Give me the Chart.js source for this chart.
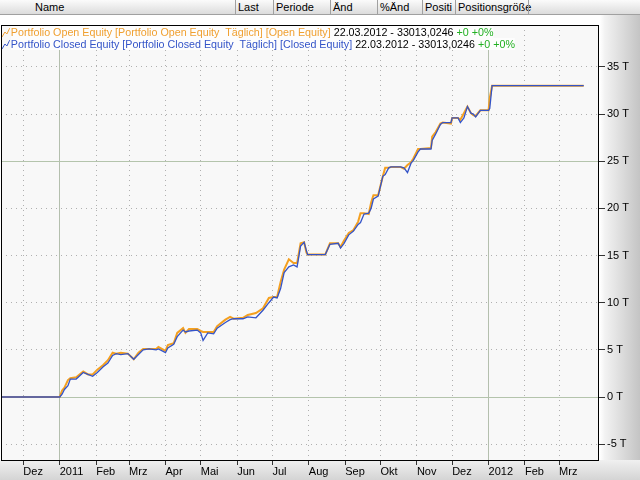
<!DOCTYPE html>
<html>
<head>
<meta charset="utf-8">
<script src="https://cdn.jsdelivr.net/npm/chart.js@4.4.1/dist/chart.umd.min.js"></script>
<style>
  html, body { margin: 0; padding: 0; }
  body {
    width: 640px; height: 480px; position: relative; overflow: hidden;
    font-family: "Liberation Sans", Arial, sans-serif; font-size: 11px;
    background: linear-gradient(to right, #ffffff 0px, #ffffff 600px, #f2f2f2 605px, #c4c4c4 640px);
  }
  #header {
    position: absolute; left: 0; top: 0; width: 640px; height: 15px;
    background: linear-gradient(to bottom, #fbfbfb, #dcdcdc);
    border-bottom: 1px solid #a0a0a0; box-sizing: border-box;
  }
  #header span {
    position: absolute; top: 1px; line-height: 13px; color: #000;
  }
  #header i {
    position: absolute; top: 0; width: 1px; height: 14px; background: #a0a0a0;
  }
  #bottomBand {
    position: absolute; left: 0; top: 460px; width: 640px; height: 20px;
    background: linear-gradient(to bottom, #f0f0f0, #d4d4d4);
  }
  #wrap { position: absolute; left: 0; top: 15px; width: 640px; height: 465px; }
  #legend {
    position: absolute; left: 2px; top: 26px; line-height: 12px;
    transform: scaleX(0.975); transform-origin: 0 0;
  }
  #legend div { white-space: nowrap; }
  #legend span { background: #fdfdfd; }
  #legend svg { vertical-align: -1px; margin-right: 1px; }
</style>
</head>
<body>
<div id="header">
  <span style="left:35px">Name</span>
  <i style="left:235px"></i><span style="left:238px">Last</span>
  <i style="left:273px"></i><span style="left:276px">Periode</span>
  <i style="left:330px"></i><span style="left:333px">Änd</span>
  <i style="left:377px"></i><span style="left:380px">%Änd</span>
  <i style="left:422px"></i><span style="left:425px">Positi</span>
  <i style="left:455px"></i><span style="left:458px">Positionsgröße</span>
  <i style="left:528px"></i>
</div>
<div id="bottomBand"></div>
<div id="wrap"><canvas id="chart" width="640" height="465"></canvas></div>
<div id="legend">
  <div><svg width="8" height="9"><polyline points="0,9 3,4 5,6 8,0" fill="none" stroke="#f0a030" stroke-width="1"/></svg><span style="color:#f0a030">Portfolio Open Equity [Portfolio Open Equity&nbsp; Täglich] [Open Equity]</span><span style="color:#000"> 22.03.2012 - 33013,0246</span><span style="color:#22b022"> +0 +0%</span></div>
  <div><svg width="8" height="9"><polyline points="0,9 3,4 5,6 8,0" fill="none" stroke="#3454c8" stroke-width="1"/></svg><span style="color:#3454c8">Portfolio Closed Equity [Portfolio Closed Equity&nbsp; Täglich] [Closed Equity]</span><span style="color:#000"> 22.03.2012 - 33013,0246</span><span style="color:#22b022"> +0 +0%</span></div>
</div>
<script>
const dates = [
  "2010-11-12", "2011-01-01", "2011-01-03", "2011-01-05", "2011-01-08", "2011-01-10",
  "2011-01-15", "2011-01-21", "2011-01-25", "2011-01-29", "2011-02-02", "2011-02-07",
  "2011-02-11", "2011-02-15", "2011-02-18", "2011-02-22", "2011-02-28", "2011-03-05",
  "2011-03-09", "2011-03-13", "2011-03-18", "2011-03-24", "2011-03-26", "2011-04-01",
  "2011-04-03", "2011-04-08", "2011-04-11", "2011-04-16", "2011-04-18", "2011-04-21",
  "2011-04-28", "2011-05-01", "2011-05-03", "2011-05-07", "2011-05-12", "2011-05-15",
  "2011-05-22", "2011-05-26", "2011-05-29", "2011-06-06", "2011-06-10", "2011-06-17",
  "2011-06-23", "2011-06-28", "2011-07-02", "2011-07-05", "2011-07-08", "2011-07-11",
  "2011-07-15", "2011-07-19", "2011-07-22", "2011-07-25", "2011-07-28", "2011-07-30",
  "2011-07-31", "2011-08-15", "2011-08-19", "2011-08-26", "2011-08-28", "2011-08-31",
  "2011-09-04", "2011-09-08", "2011-09-12", "2011-09-14", "2011-09-17", "2011-09-21",
  "2011-09-23", "2011-09-25", "2011-09-29", "2011-10-03", "2011-10-05", "2011-10-08",
  "2011-10-10", "2011-10-18", "2011-10-21", "2011-10-24", "2011-10-27", "2011-10-29",
  "2011-11-02", "2011-11-04", "2011-11-13", "2011-11-14", "2011-11-17", "2011-11-21",
  "2011-11-23", "2011-11-30", "2011-12-01", "2011-12-06", "2011-12-08", "2011-12-11",
  "2011-12-14", "2011-12-17", "2011-12-19", "2011-12-21", "2011-12-25", "2012-01-01",
  "2012-01-02", "2012-01-04", "2012-03-22"
];
const openEquity = [
  0, 0, 700, 1000, 1800, 2000,
  2100, 2700, 2400, 2400, 2900, 3400,
  3900, 4700, 4600, 4700, 4600, 4000,
  4700, 5100, 5100, 5100, 5300, 4900,
  5500, 5700, 6800, 7300, 6800, 7200,
  7200, 7000, 6900, 6900, 6900, 7500,
  8200, 8500, 8300, 8400, 8700, 8900,
  9400, 10500, 10600, 10600, 12200, 13500,
  14600, 14200, 14200, 16300, 16400, 15300,
  15100, 15100, 16300, 16300, 15900, 16600,
  17400, 17700, 18600, 19500, 19500, 19400,
  20600, 21400, 21400, 23400, 24300, 24300,
  24400, 24400, 24200, 24600, 24900, 25300,
  26300, 26300, 26400, 27600, 28100, 29000,
  29100, 29000, 29600, 29600, 29400, 30100,
  30800, 30100, 29900, 29800, 30400, 30400,
  31700, 33013.0246, 33013.0246
];
const closedEquity = [
  0, 0, 300, 800, 1200, 1900,
  1900, 2600, 2400, 2200, 2600, 3200,
  3600, 4400, 4600, 4500, 4600, 4000,
  4500, 5000, 5100, 5000, 5100, 4700,
  5200, 5600, 6400, 7100, 6900, 7000,
  7100, 6800, 6000, 6800, 6700, 7300,
  7900, 8200, 8300, 8300, 8500, 8400,
  9200, 10000, 10600, 10500, 11500, 13200,
  13800, 14000, 13800, 16000, 16400, 15500,
  15100, 15100, 16200, 16300, 15800, 16300,
  17200, 17600, 18300, 18500, 19400, 19500,
  20000, 21000, 21300, 23400, 23600, 24300,
  24400, 24400, 24300, 23800, 24800, 25100,
  26000, 26300, 26300, 27200, 27900, 28900,
  29100, 29100, 29600, 29600, 29100, 29600,
  30800, 30100, 30000, 29700, 30400, 30400,
  30600, 33013.0246, 33013.0246
];
const monthTicks = [
  "2010-12-01", "2011-01-01", "2011-02-01", "2011-03-01", "2011-04-01", "2011-05-01",
  "2011-06-01", "2011-07-01", "2011-08-01", "2011-09-01", "2011-10-01", "2011-11-01",
  "2011-12-01", "2012-01-01", "2012-02-01", "2012-03-01"
];
const monthLabels = ["Dez", "2011", "Feb", "Mrz", "Apr", "Mai", "Jun", "Jul", "Aug", "Sep", "Okt", "Nov", "Dez", "2012", "Feb", "Mrz"];
const yTicks = [-5000, 0, 5000, 10000, 15000, 20000, 25000, 30000, 35000];

// days since 2011-01-01
function dayNum(s) {
  const p = s.split("-").map(Number);
  return (Date.UTC(p[0], p[1] - 1, p[2]) - Date.UTC(2011, 0, 1)) / 86400000;
}

const monthDays = monthTicks.map(dayNum);
const yearDays = [dayNum("2011-01-01"), dayNum("2012-01-01")];

const plotFrame = {
  id: "plotFrame",
  beforeDraw(chart) {
    const { ctx, chartArea: a } = chart;
    ctx.save();
    ctx.fillStyle = "#f8f8f8";
    ctx.fillRect(a.left, a.top, a.right - a.left, a.bottom - a.top);
    ctx.restore();
  },
  afterDraw(chart) {
    const { ctx, chartArea: a } = chart;
    ctx.save();
    ctx.strokeStyle = "#000";
    ctx.lineWidth = 1;
    ctx.strokeRect(Math.round(a.left) + 0.5, Math.round(a.top) + 0.5, Math.round(a.right - a.left) - 1, Math.round(a.bottom - a.top));
    ctx.restore();
  }
};

new Chart(document.getElementById("chart"), {
  type: "line",
  data: {
    datasets: [
      {
        label: "Portfolio Closed Equity",
        data: dates.map((d, i) => ({ x: dayNum(d), y: closedEquity[i] })),
        borderColor: "#3454c8",
        borderWidth: 1.3,
        pointRadius: 0,
        tension: 0,
        order: 0
      },
      {
        label: "Portfolio Open Equity",
        data: dates.map((d, i) => ({ x: dayNum(d), y: openEquity[i] })),
        borderColor: "#f4a020",
        borderWidth: 2,
        pointRadius: 0,
        tension: 0,
        order: 1
      }
    ]
  },
  options: {
    responsive: false,
    animation: false,
    layout: { padding: { top: 10, left: 1, right: 0, bottom: 0 } },
    plugins: { legend: { display: false }, tooltip: { enabled: false } },
    scales: {
      x: {
        type: "linear",
        min: dayNum("2010-11-12"),
        max: dayNum("2012-04-04"),
        afterBuildTicks: s => { s.ticks = monthDays.map(v => ({ value: v })); },
        afterFit: s => { s.height = 20; },
        ticks: {
          autoSkip: false, maxRotation: 0, align: "start", padding: 0,
          color: "#000", font: { family: "Liberation Sans", size: 11 },
          callback: (v) => monthLabels[monthDays.indexOf(v)]
        },
        grid: {
          color: c => yearDays.includes(c.tick && c.tick.value) ? "#b4bfae" : "#b0b0b0",
          tickColor: "#333", tickLength: 5, drawTicks: true
        },
        border: {
          display: false,
          dash: c => yearDays.includes(c.tick && c.tick.value) ? [] : [1, 4]
        }
      },
      y: {
        position: "right",
        min: -6680,
        max: 39450,
        afterBuildTicks: s => { s.ticks = yTicks.map(v => ({ value: v })); },
        afterFit: s => { s.width = 41; },
        ticks: {
          padding: 2, color: "#000", font: { family: "Liberation Sans", size: 11 },
          callback: v => (v / 1000) + " T"
        },
        grid: {
          color: c => (c.tick && (c.tick.value === 0 || c.tick.value === 25000)) ? "#b4c4ac" : "#b0b0b0",
          tickColor: "#333", tickLength: 6, drawTicks: true
        },
        border: {
          display: false,
          dash: c => (c.tick && (c.tick.value === 0 || c.tick.value === 25000)) ? [] : [1, 4]
        }
      }
    }
  },
  plugins: [plotFrame]
});
</script>
</body>
</html>
